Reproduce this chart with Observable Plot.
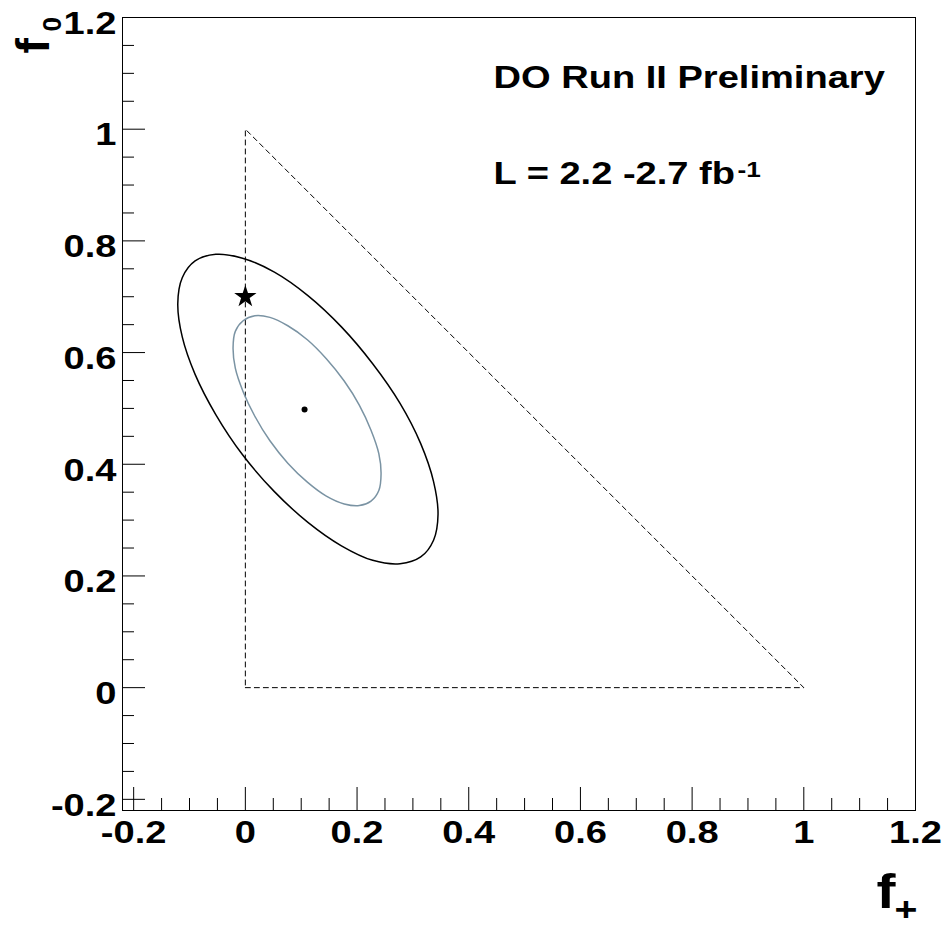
<!DOCTYPE html>
<html>
<head>
<meta charset="utf-8">
<script src="https://cdn.jsdelivr.net/npm/d3@7"></script>
<script src="https://cdn.jsdelivr.net/npm/@observablehq/plot@0.6"></script>
<style>
  html, body { margin: 0; padding: 0; background: #ffffff; }
</style>
</head>
<body>
<div id="chart"></div>
<script>
// ---- data ----
const xTickValues = [-0.2, 0, 0.2, 0.4, 0.6, 0.8, 1, 1.2];
const yTickValues = [-0.2, 0, 0.2, 0.4, 0.6, 0.8, 1, 1.2];
const minorTickValues = [-0.15, -0.1, -0.05, 0.05, 0.1, 0.15, 0.25, 0.3, 0.35, 0.45, 0.5, 0.55,
                         0.65, 0.7, 0.75, 0.85, 0.9, 0.95, 1.05, 1.1, 1.15];

// outer contour (black)
const outerFplus = [0.345, 0.337, 0.314, 0.277, 0.228, 0.172, 0.112, 0.052, -0.005, -0.053, -0.090, -0.113,
                    -0.121, -0.113, -0.090, -0.053, -0.005, 0.052, 0.112, 0.172, 0.228, 0.277, 0.314, 0.337];
const outerF0    = [0.310, 0.369, 0.437, 0.509, 0.580, 0.646, 0.702, 0.744, 0.769, 0.776, 0.764, 0.734,
                    0.688, 0.628, 0.561, 0.489, 0.417, 0.351, 0.296, 0.254, 0.228, 0.222, 0.234, 0.264];

// inner contour (grey-blue)
const innerFplus = [0.243, 0.239, 0.225, 0.204, 0.177, 0.145, 0.111, 0.076, 0.044, 0.017, -0.004, -0.018,
                    -0.022, -0.018, -0.004, 0.017, 0.044, 0.076, 0.111, 0.145, 0.177, 0.204, 0.225, 0.239];
const innerF0    = [0.383, 0.419, 0.461, 0.506, 0.549, 0.589, 0.623, 0.648, 0.663, 0.666, 0.657, 0.638,
                    0.609, 0.572, 0.530, 0.486, 0.442, 0.402, 0.368, 0.343, 0.329, 0.326, 0.334, 0.353];

// physical triangle boundary
const triangleFplus = [0, 1, 0, 0];
const triangleF0    = [0, 0, 1, 0];

// best fit and Standard Model point
const bestFit = [{f: 0.106, f0: 0.498}];
const smPoint = [{f: 0.0, f0: 0.70}];

const titleText = "DO Run II Preliminary";
const lumiText = "L = 2.2 -2.7 fb";
const lumiSup = "-1";

// ---- build tables ----
const outer = outerFplus.map((f, i) => ({f, f0: outerF0[i]}));
const inner = innerFplus.map((f, i) => ({f, f0: innerF0[i]}));
const triangle = triangleFplus.map((f, i) => ({f, f0: triangleF0[i]}));

const FONT = "Liberation Sans, Arial, Helvetica, sans-serif";
const frameSize = 793;

const chart = Plot.plot({
  width: 949,
  height: 928,
  marginLeft: 122,
  marginRight: 34,
  marginTop: 17,
  marginBottom: 118,
  style: {background: "#ffffff", color: "#000000"},
  x: {domain: [-0.22, 1.2]},
  y: {domain: [-0.22, 1.2]},
  marks: [
    Plot.line(triangle, {x: "f", y: "f0", stroke: "#000000", strokeWidth: 1, strokeDasharray: "5,4"}),
    Plot.line(outer, {x: "f", y: "f0", curve: "catmull-rom-closed", stroke: "#000000", strokeWidth: 1.5}),
    Plot.line(inner, {x: "f", y: "f0", curve: "catmull-rom-closed", stroke: "#7a93a3", strokeWidth: 1.5}),
    Plot.dot(bestFit, {x: "f", y: "f0", r: 3, fill: "#000000", stroke: "none"}),
    Plot.dot(smPoint, {x: "f", y: "f0", symbol: "star", r: 7, fill: "#000000", stroke: "none"}),
    // inward tick marks
    Plot.tickX(xTickValues, {x: d => d, insetTop: frameSize - 23, stroke: "#000000", strokeWidth: 1}),
    Plot.tickX(minorTickValues, {x: d => d, insetTop: frameSize - 12, stroke: "#000000", strokeWidth: 1}),
    Plot.tickY(yTickValues, {y: d => d, insetRight: frameSize - 23, stroke: "#000000", strokeWidth: 1}),
    Plot.tickY(minorTickValues, {y: d => d, insetRight: frameSize - 12, stroke: "#000000", strokeWidth: 1}),
    Plot.frame({stroke: "#000000", strokeWidth: 1}),
    // axis labels
    Plot.axisX({ticks: xTickValues, tickSize: 0, tickPadding: 10, tickFormat: d => String(d), label: null,
                fontSize: 32, fontWeight: "bold", fontFamily: FONT, fill: "#000000"}),
    Plot.axisY({ticks: yTickValues, tickSize: 0, tickPadding: 6, dy: 6, tickFormat: d => String(d), label: null,
                fontSize: 32, fontWeight: "bold", fontFamily: FONT, fill: "#000000"}),
    // axis titles
    Plot.text(["f"], {text: d => d, frameAnchor: "bottom-right", dx: -39, dy: 97, textAnchor: "start", lineAnchor: "bottom",
                      fontSize: 48, fontWeight: "bold", fontFamily: FONT, fill: "#000000"}),
    Plot.text(["+"], {text: d => d, frameAnchor: "bottom-right", dx: -21, dy: 110, textAnchor: "start", lineAnchor: "bottom",
                      fontSize: 33, fontWeight: "bold", fontFamily: FONT, fill: "#000000"}),
    Plot.text(["f"], {text: d => d, frameAnchor: "top-left", dx: -74, dy: 36, rotate: -90, textAnchor: "start", lineAnchor: "bottom",
                      fontSize: 46, fontWeight: "bold", fontFamily: FONT, fill: "#000000"}),
    Plot.text(["0"], {text: d => d, frameAnchor: "top-left", dx: -62, dy: 14, rotate: -90, textAnchor: "start", lineAnchor: "bottom",
                      fontSize: 26, fontWeight: "bold", fontFamily: FONT, fill: "#000000"}),
    // annotations
    Plot.text([titleText], {text: d => d, frameAnchor: "top-left", dx: 371, dy: 70, textAnchor: "start", lineAnchor: "bottom",
                            fontSize: 32, fontWeight: "bold", fontFamily: FONT, fill: "#000000"}),
    Plot.text([lumiText], {text: d => d, frameAnchor: "top-left", dx: 371, dy: 166, textAnchor: "start", lineAnchor: "bottom",
                           fontSize: 32, fontWeight: "bold", fontFamily: FONT, fill: "#000000"}),
    Plot.text([lumiSup], {text: d => d, frameAnchor: "top-left", dx: 615, dy: 159, textAnchor: "start", lineAnchor: "bottom",
                          fontSize: 22, fontWeight: "bold", fontFamily: FONT, fill: "#000000"})
  ]
});

// the reference's lettering is horizontally stretched; widen non-rotated labels around their anchors
chart.querySelectorAll("text").forEach(t => {
  const tr = t.getAttribute("transform") || "";
  if (!tr.includes("rotate")) t.setAttribute("transform", (tr + " scale(1.19,1)").trim());
});

document.getElementById("chart").appendChild(chart);
</script>
</body>
</html>
